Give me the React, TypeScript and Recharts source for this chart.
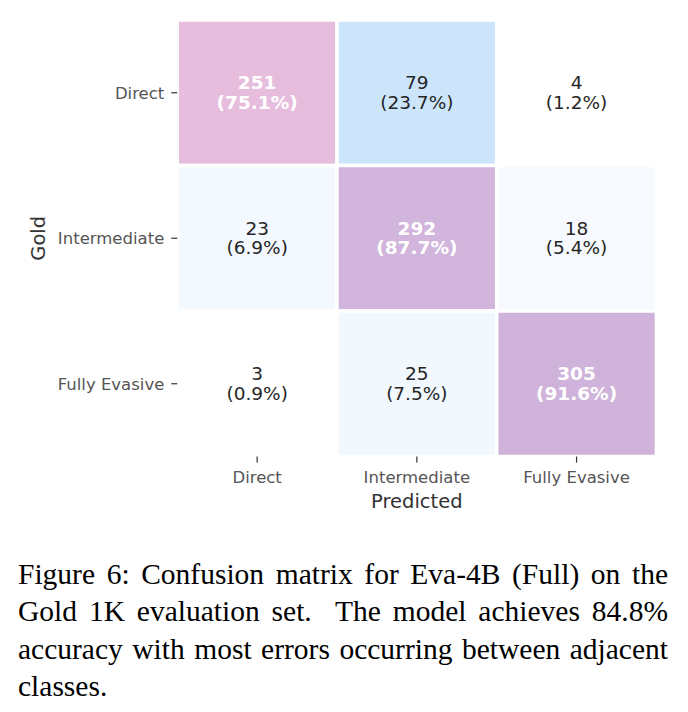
import React from 'react';
import { ScatterChart, Scatter, XAxis, YAxis, ReferenceArea, Label } from 'recharts';

// Class names on both axes
const predictedClasses = ['Direct', 'Intermediate', 'Fully Evasive'];
const goldClasses = ['Direct', 'Intermediate', 'Fully Evasive'];

// Counts per gold row (columns follow predictedClasses)
const directRow = [251, 79, 4];
const intermediateRow = [23, 292, 18];
const fullyEvasiveRow = [3, 25, 305];

// Row-normalised percentages
const directPct = [75.1, 23.7, 1.2];
const intermediatePct = [6.9, 87.7, 5.4];
const fullyEvasivePct = [0.9, 7.5, 91.6];

// Tick positions at the centre of each class band
const classTicks = [0.5, 1.5, 2.5];

const countRows = [directRow, intermediateRow, fullyEvasiveRow];
const pctRows = [directPct, intermediatePct, fullyEvasivePct];

type CellDatum = { row: number; col: number; x: number; y: number; count: number; pct: number };

const cells: CellDatum[] = goldClasses.flatMap((_, r) =>
  predictedClasses.map((__, c) => ({
    row: r,
    col: c,
    x: c + 0.5,
    y: r + 0.5,
    count: countRows[r][c],
    pct: pctRows[r][c],
  }))
);

// Piecewise-linear colour scale: white -> light blue -> pink -> purple
const colourStops: [number, string][] = [
  [5, '#ffffff'],
  [80, '#cbe5fb'],
  [250, '#e6bddc'],
  [290, '#d3b5dc'],
  [310, '#cdb2d9'],
];

const hexToRgb = (h: string) => [1, 3, 5].map((i) => parseInt(h.slice(i, i + 2), 16));

const colourFor = (v: number): string => {
  if (v <= colourStops[0][0]) return colourStops[0][1];
  for (let i = 1; i < colourStops.length; i++) {
    const [v1, c1] = colourStops[i];
    if (v <= v1) {
      const [v0, c0] = colourStops[i - 1];
      const t = (v - v0) / (v1 - v0);
      const a = hexToRgb(c0);
      const b = hexToRgb(c1);
      const m = a.map((x, k) => Math.round(x + (b[k] - x) * t));
      return `rgb(${m[0]},${m[1]},${m[2]})`;
    }
  }
  return colourStops[colourStops.length - 1][1];
};

const FONT = '"DejaVu Sans", sans-serif';

const CellText = (props: any) => {
  const { cx, cy, payload } = props;
  const diag = payload.row === payload.col;
  return (
    <text
      textAnchor="middle"
      fontFamily={FONT}
      fontSize={18.5}
      fill={diag ? '#ffffff' : '#262626'}
      fontWeight={diag ? 'bold' : 'normal'}
    >
      <tspan x={cx} y={cy - 3.5}>
        {payload.count}
      </tspan>
      <tspan x={cx} y={cy + 16}>
        ({payload.pct.toFixed(1)}%)
      </tspan>
    </text>
  );
};

const tickStyle = { fill: '#555555', fontSize: 16.5, fontFamily: FONT };

const XTitle = (props: any) => {
  const vb = props.viewBox || {};
  return (
    <text x={vb.x + vb.width / 2} y={508} textAnchor="middle" fontFamily={FONT} fontSize={19.5} fill="#333333">
      Predicted
    </text>
  );
};

const YTitle = (props: any) => {
  const vb = props.viewBox || {};
  const cy = vb.y + vb.height / 2;
  const x = 44.5;
  return (
    <text
      x={x}
      y={cy}
      textAnchor="middle"
      transform={`rotate(-90, ${x}, ${cy})`}
      fontFamily={FONT}
      fontSize={19.5}
      fill="#333333"
    >
      Gold
    </text>
  );
};

const captionLine = (justify: boolean): React.CSSProperties => ({
  textAlign: justify ? 'justify' : 'left',
  textAlignLast: justify ? 'justify' : 'left',
  height: 37.5,
});

export default function App() {
  return (
    <div style={{ position: 'absolute', left: 0, top: 0, width: 688, height: 712, background: '#ffffff' }}>
      <ScatterChart width={688} height={530} margin={{ top: 20, right: 31.6, bottom: 13.5, left: 0 }}>
        <XAxis
          type="number"
          dataKey="x"
          domain={[0, 3]}
          ticks={classTicks}
          tickFormatter={(v: number) => predictedClasses[Math.floor(v)]}
          axisLine={false}
          tickLine={{ stroke: '#333333', strokeWidth: 1.2 }}
          tickSize={6}
          tickMargin={9}
          height={60}
          tick={tickStyle}
          interval={0}
        >
          <Label content={<XTitle />} />
        </XAxis>
        <YAxis
          type="number"
          dataKey="y"
          domain={[0, 3]}
          reversed
          ticks={classTicks}
          tickFormatter={(v: number) => goldClasses[Math.floor(v)]}
          axisLine={false}
          tickLine={{ stroke: '#333333', strokeWidth: 1.2 }}
          tickSize={6}
          tickMargin={7}
          width={177.3}
          tick={tickStyle}
          interval={0}
        >
          <Label content={<YTitle />} />
        </YAxis>
        {cells.map((d) => (
          <ReferenceArea
            key={`${d.row}-${d.col}`}
            x1={d.col}
            x2={d.col + 1}
            y1={d.row}
            y2={d.row + 1}
            fill={colourFor(d.count)}
            fillOpacity={1}
            stroke="#ffffff"
            strokeWidth={3.5}
            ifOverflow="visible"
          />
        ))}
        <Scatter data={cells} shape={<CellText />} isAnimationActive={false} />
      </ScatterChart>
      <div
        style={{
          position: 'absolute',
          left: 18,
          top: 555.5,
          width: 650,
          fontFamily: '"Liberation Serif", "Times New Roman", serif',
          fontSize: 29.5,
          lineHeight: '37.5px',
          color: '#000000',
        }}
      >
        <div style={captionLine(true)}>Figure 6: Confusion matrix for Eva-4B (Full) on the</div>
        <div style={captionLine(true)}>Gold 1K evaluation set.&nbsp; The model achieves 84.8%</div>
        <div style={captionLine(true)}>accuracy with most errors occurring between adjacent</div>
        <div style={captionLine(false)}>classes.</div>
      </div>
    </div>
  );
}
